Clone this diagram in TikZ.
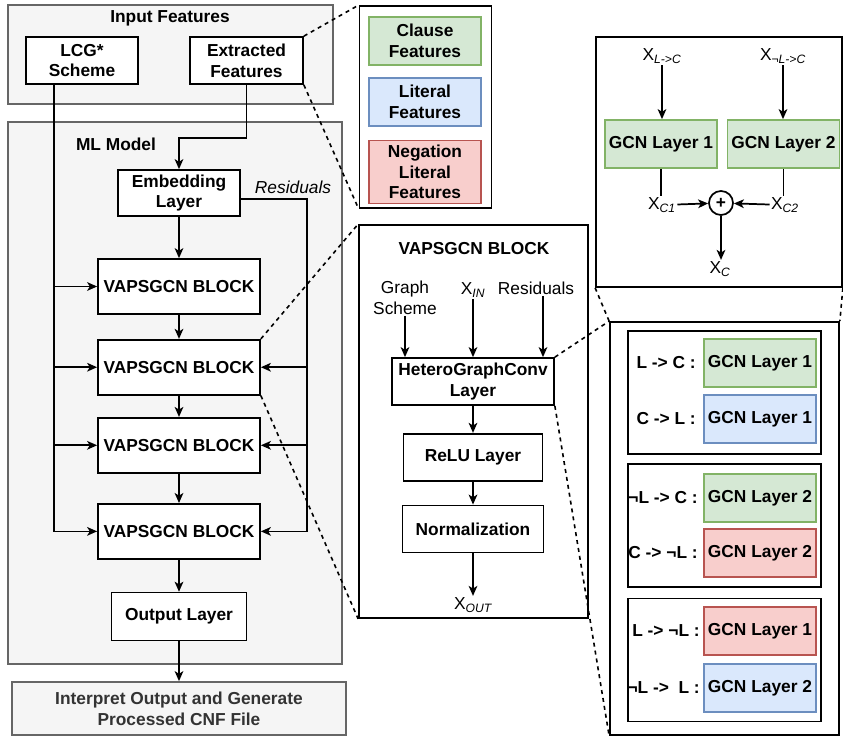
\documentclass[tikz,border=0pt]{standalone}
\usepackage{fontspec}
\setmainfont{Liberation Sans}
\usetikzlibrary{positioning,arrows.meta,calc}
\definecolor{grpfill}{HTML}{F5F5F5}
\definecolor{grpline}{HTML}{666666}
\definecolor{txtgray}{HTML}{333333}
\definecolor{clfill}{HTML}{D5E8D4}
\definecolor{clline}{HTML}{82B366}
\definecolor{lifill}{HTML}{DAE8FC}
\definecolor{liline}{HTML}{6C8EBF}
\definecolor{ngfill}{HTML}{F8CECC}
\definecolor{ngline}{HTML}{B85450}
\newcommand{\xsub}[1]{\textsubscript{\itshape #1}}
\tikzset{
  grp/.style={draw=grpline, fill=grpfill, line width=1.3pt},
  blk/.style={draw, fill=white, line width=1.3pt, font=\bfseries, align=center, inner sep=2pt},
  vb/.style={blk, minimum width=121.5pt, minimum height=41.25pt},
  cl/.style={blk, draw=clline, fill=clfill, minimum width=84pt, minimum height=36pt},
  li/.style={blk, draw=liline, fill=lifill, minimum width=84pt, minimum height=36pt},
  ng/.style={blk, draw=ngline, fill=ngfill, minimum width=84pt, minimum height=36pt},
  sub/.style={draw, fill=white, line width=1.3pt, minimum width=144.75pt, minimum height=92.25pt},
  lbl/.style={inner sep=1pt, align=center},
  rl/.style={font=\bfseries, inner sep=0pt, anchor=east},
  fl/.style={-{Stealth[length=7.5pt,width=6.5pt,inset=2pt]}, line width=1.3pt},
  ln/.style={line width=1.3pt},
  zm/.style={dashed, line width=1.2pt},
}

\begin{document}
\fontsize{13}{15.6}\selectfont
\begin{tikzpicture}[x=0.75pt, y=-0.75pt]
\useasboundingbox (0,0) rectangle (843,736);
% input features
\node[grp, minimum width=243.75pt, minimum height=74.25pt] (inbox) at (170.5,54.5) {};
\node[font=\bfseries] (intit) at (170,18) {Input Features};
\node[blk, minimum width=84pt, minimum height=35.25pt] (lcg) at (82,60.5) {LCG*\\Scheme};
\node[blk, minimum width=84.75pt, minimum height=35.25pt] (extr) at (246.5,60.5) {Extracted\\Features};
% ML model
\node[grp, minimum width=250.5pt, minimum height=406.5pt] (mlbox) at (175,393) {};
\node[font=\bfseries] (mltit) at (116,144) {ML Model};
\node[blk, minimum width=91.5pt, minimum height=34.5pt] (emb) at (179,193) {Embedding\\Layer};
\node[lbl, font=\itshape] (res) at (293,187) {Residuals};
\node[vb] (b1) at (179,286.5) {VAPSGCN BLOCK};
\node[vb, below=18pt of b1] (b2) {VAPSGCN BLOCK};
\node[vb, below=16pt of b2] (b3) {VAPSGCN BLOCK};
\node[vb, below=22pt of b3] (b4) {VAPSGCN BLOCK};
\node[blk, minimum width=101.25pt, minimum height=36pt, below=24pt of b4] (out) {Output Layer};
\node[grp, text=txtgray, font=\bfseries, align=center, minimum width=250.5pt, minimum height=39.75pt] (interp) at (179,708.5) {Interpret Output and Generate\\Processed CNF File};
\coordinate (lx) at ([xshift=-21pt]lcg.south);
\coordinate (rx) at (307,0);
\draw[fl] (lx) |- (b4.west);
\draw[fl] (lx |- b1.west) -- (b1.west);
\draw[fl] (lx |- b2.west) -- (b2.west);
\draw[fl] (lx |- b3.west) -- (b3.west);
\draw[fl] (extr.south) -- ++(0,53) -| (emb.north);
\draw[fl] ([yshift=-4.5pt]emb.east) -| (rx |- b4.east) -- (b4.east);
\draw[fl] (rx |- b2.east) -- (b2.east);
\draw[fl] (rx |- b3.east) -- (b3.east);
\draw[fl] (emb) -- (b1);
\draw[fl] (b1) -- (b2);
\draw[fl] (b2) -- (b3);
\draw[fl] (b3) -- (b4);
\draw[fl] (b4) -- (out);
\draw[fl] (out.south) -- (out.south |- interp.north);
% feature legend
\node[blk, minimum width=99pt, minimum height=151.5pt] (leg) at (425.5,107) {};
\node[cl] (clause) at (425,41) {Clause\\Features};
\node[li, below=8.25pt of clause] (lit) {Literal\\Features};
\node[ng, minimum height=47.25pt, below=9.75pt of lit] (neg) {Negation\\Literal\\Features};
\draw[zm] (extr.north east) -- (leg.north west);
\draw[zm] (extr.south east) -- (leg.south west);
% VAPSGCN block detail
\node[blk, minimum width=171.75pt, minimum height=294.75pt] (det) at (473.5,421.5) {};
\node[font=\bfseries] (dtit) at (474,249) {VAPSGCN BLOCK};
\node[lbl] (gs) at (405,297.5) {Graph\\Scheme};
\node[lbl] (xin) at (473,290) {X\xsub{IN}};
\node[lbl] (resin) at (536,288) {Residuals};
\node[blk, minimum width=121.5pt, minimum height=35.25pt] (het) at (473,381.5) {HeteroGraphConv\\Layer};
\node[blk, minimum width=104.25pt, minimum height=35.25pt, below=20.25pt of het] (relu) {ReLU Layer};
\node[blk, minimum width=105.75pt, minimum height=35.25pt, below=17.25pt of relu] (norm) {Normalization};
\node[lbl] (xout) at (473,605) {X\xsub{OUT}};
\draw[fl] (gs) -- (gs |- het.north);
\draw[fl] (xin) -- (xin |- het.north);
\draw[fl] ([xshift=5.25pt]resin.south) -- ([xshift=5.25pt]resin.south |- het.north);
\draw[fl] (het) -- (relu);
\draw[fl] (relu) -- (norm);
\draw[fl] (norm) -- (xout);
\draw[zm] (b2.north east) -- (det.north west);
\draw[zm] (b2.south east) -- (det.south west);
% GCN sum
\node[blk, minimum width=184.5pt, minimum height=187.5pt] (gbox) at (719,162) {};
\node[lbl] (xlc) at (662,56) {X\xsub{L->C}};
\node[lbl] (xnlc) at (783,56) {X\xsub{¬L->C}};
\node[cl] (g1) at (661,144) {GCN Layer 1};
\node[cl] (g2) at (783.5,144) {GCN Layer 2};
\node[lbl] (xc1) at (662,205) {X\xsub{C1}};
\node[lbl] (xc2) at (785,205) {X\xsub{C2}};
\node[circle, draw, fill=white, line width=1.3pt, minimum size=18pt, inner sep=0pt] (plus) at (721,203) {\textbf{+}};
\node[lbl] (xc) at (720,269) {X\xsub{C}};
\draw[fl] (xlc) -- (xlc |- g1.north);
\draw[fl] (xnlc) -- (xnlc |- g2.north);
\draw[ln] (g1.south) -- (g1.south |- xc1.north);
\draw[ln] (g2.south) -- (g2.south |- xc2.north);
\draw[fl] (xc1) -- (plus);
\draw[fl] (xc2) -- (plus);
\draw[fl] (plus.south) -- (plus.south |- xc.north);
% relation panel
\node[blk, minimum width=171.75pt, minimum height=309.75pt] (rp) at (724.5,528.5) {};
\node[sub] (s1) at (724.5,392.5) {};
\node[sub] (s2) at (724.5,525.5) {};
\node[sub] (s3) at (724.5,660) {};
\node[cl] (r1) at (760,363) {GCN Layer 1};
\node[li] (r2) at (760,419) {GCN Layer 1};
\node[cl] (r3) at (760,498) {GCN Layer 2};
\node[ng] (r4) at (760,553) {GCN Layer 2};
\node[ng] (r5) at (760,631) {GCN Layer 1};
\node[li] (r6) at (760,688) {GCN Layer 2};
\node[rl] (e1) at (696,363) {L -> C :};
\node[rl] (e2) at (696,419) {C -> L :};
\node[rl] (e3) at (698,498) {¬L -> C :};
\node[rl] (e4) at (698,553) {C -> ¬L :};
\node[rl] (e5) at (700,631) {L -> ¬L :};
\node[rl] (e6) at (700,688) {¬L -> \ L :};
\draw[zm] (het.north east) -- (rp.north west);
\draw[zm] (het.south east) -- (rp.south west);
\draw[zm] (gbox.south west) -- (rp.north west);
\draw[zm] (gbox.south east) -- (rp.north east);
\end{tikzpicture}
\end{document}
